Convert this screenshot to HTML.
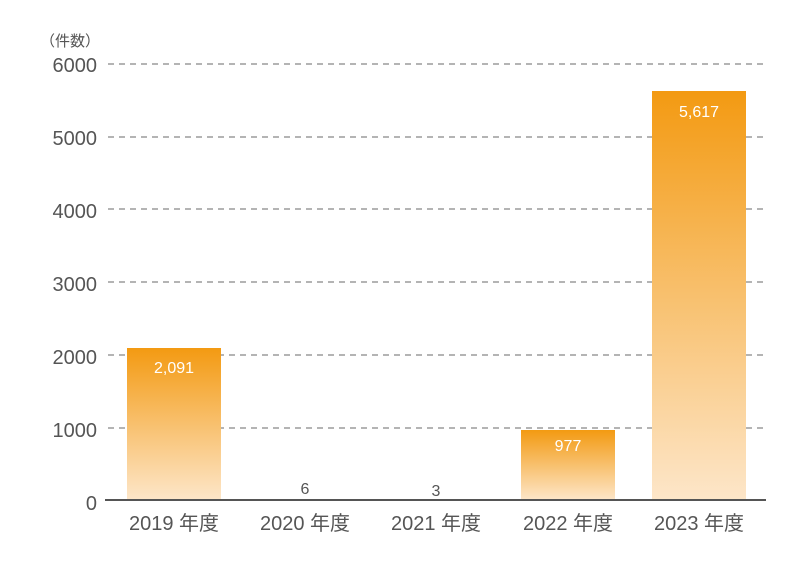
<!DOCTYPE html>
<html><head><meta charset="utf-8"><style>
body{margin:0;background:#fff;}
svg text{font-family:"Liberation Sans","Noto Sans CJK JP",sans-serif;}
</style></head><body>
<svg width="810" height="568" viewBox="0 0 810 568" xmlns="http://www.w3.org/2000/svg">
<defs>
<linearGradient id="g" x1="0" y1="0" x2="0" y2="1">
<stop offset="0" stop-color="#f39a12"/><stop offset="1" stop-color="#fde6c9"/>
</linearGradient>
</defs>
<g stroke="#888" stroke-width="1.2" stroke-dasharray="6,5">
<line x1="108" y1="64" x2="765" y2="64"/>
<line x1="108" y1="137" x2="765" y2="137"/>
<line x1="108" y1="209" x2="765" y2="209"/>
<line x1="108" y1="282" x2="765" y2="282"/>
<line x1="108" y1="355" x2="765" y2="355"/>
<line x1="108" y1="428" x2="765" y2="428"/>
</g>
<rect x="127" y="348" width="94" height="152" fill="url(#g)"/>
<rect x="521" y="430" width="94" height="70" fill="url(#g)"/>
<rect x="652" y="91" width="94" height="409" fill="url(#g)"/>
<line x1="105" y1="500" x2="766" y2="500" stroke="#555" stroke-width="2"/>
<g fill="#555" font-size="20" text-anchor="end">
<text x="97" y="72">6000</text>
<text x="97" y="145">5000</text>
<text x="97" y="218">4000</text>
<text x="97" y="291">3000</text>
<text x="97" y="364">2000</text>
<text x="97" y="437">1000</text>
<text x="97" y="510">0</text>
</g>
<text x="40" y="46" fill="#555" font-size="15">（件数）</text>
<g fill="#fff" font-size="16" text-anchor="middle">
<text x="174" y="373">2,091</text>
<text x="568" y="451">977</text>
<text x="699" y="117">5,617</text>
</g>
<g fill="#555" font-size="16" text-anchor="middle">
<text x="305" y="494">6</text>
<text x="436" y="496">3</text>
</g>
<g fill="#555" font-size="20" text-anchor="middle">
<text x="174" y="530">2019 年度</text>
<text x="305" y="530">2020 年度</text>
<text x="436" y="530">2021 年度</text>
<text x="568" y="530">2022 年度</text>
<text x="699" y="530">2023 年度</text>
</g>
</svg>
</body></html>
